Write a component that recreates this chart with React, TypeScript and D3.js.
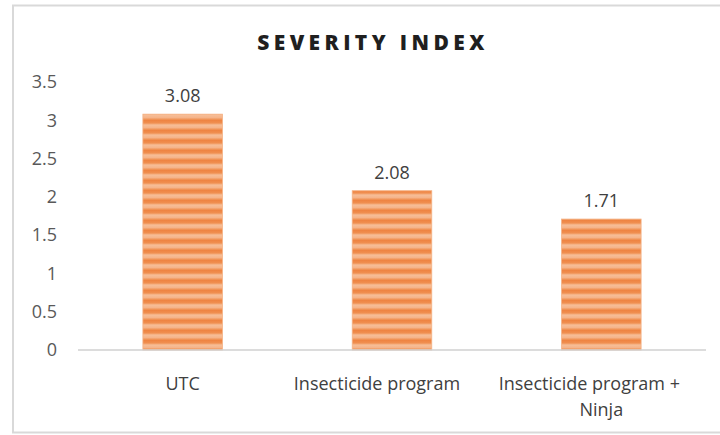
import React from "react";
import * as d3 from "d3";

const categories = ["UTC", "Insecticide program", "Insecticide program + Ninja"];
const categoryLines = [["UTC"], ["Insecticide program"], ["Insecticide program +", "Ninja"]];
const severity = [3.08, 2.08, 1.71];
const yTicks = [0, 0.5, 1, 1.5, 2, 2.5, 3, 3.5];

const W = 720;
const H = 435;
const margin = { left: 78, right: 14, top: 82, bottom: 85 };

export default function App() {
  const x = d3
    .scaleBand<string>()
    .domain(categories)
    .range([margin.left, W - margin.right])
    .paddingInner(0.62)
    .paddingOuter(0.31);
  const y = d3.scaleLinear().domain([0, 3.5]).range([H - margin.bottom, margin.top]);
  const font = "'Open Sans', sans-serif";

  return (
    <svg width={W} height={H} style={{ position: "absolute", left: 0, top: 0 }}>
      <defs>
        <linearGradient id="stripe" x1="0" y1="0" x2="0" y2="1">
          <stop offset="0" stopColor="#EE8240" />
          <stop offset="0.3" stopColor="#F08F50" />
          <stop offset="0.5" stopColor="#F6BE98" />
          <stop offset="0.75" stopColor="#F5B48A" />
          <stop offset="1" stopColor="#EF8A48" />
        </linearGradient>
        <pattern id="bars" patternUnits="userSpaceOnUse" width="10" height="10">
          <rect width="10" height="10" fill="url(#stripe)" />
        </pattern>
      </defs>
      <rect x={0} y={0} width={W} height={H} fill="#fff" />
      <rect x={13} y={5.5} width={W + 10} height={427} fill="none" stroke="#d9d9d9" strokeWidth={2} />
      <text
        x={373}
        y={50}
        textAnchor="middle"
        fontFamily={font}
        fontWeight={800}
        fontSize={21}
        letterSpacing={4.4}
        fill="#1f1f1f"
      >
        SEVERITY INDEX
      </text>
      {yTicks.map((t) => (
        <text
          key={t}
          x={57}
          y={y(t)}
          dy="0.35em"
          textAnchor="end"
          fontFamily={font}
          fontSize={18}
          fill="#595959"
        >
          {t}
        </text>
      ))}
      {categories.map((c, i) => (
        <g key={c}>
          <rect
            x={x(c)}
            y={y(severity[i])}
            width={x.bandwidth()}
            height={y(0) - y(severity[i])}
            fill="url(#bars)"
            stroke="#F4B183"
            strokeWidth={0.8}
          />
          <text
            x={x(c)! + x.bandwidth() / 2}
            y={y(severity[i]) - 12}
            textAnchor="middle"
            fontFamily={font}
            fontSize={18}
            fill="#404040"
          >
            {severity[i].toFixed(2)}
          </text>
          {categoryLines[i].map((line, j) => (
            <text
              key={line}
              x={x(c)! + x.bandwidth() / 2 + (categoryLines[i].length > 1 && j === 0 ? -12 : 0) + (i === 1 ? -15 : 0)}
              y={390 + j * 26}
              textAnchor="middle"
              fontFamily={font}
              fontSize={18}
              fill="#404040"
            >
              {line}
            </text>
          ))}
        </g>
      ))}
      <line x1={margin.left} x2={W - margin.right} y1={y(0)} y2={y(0)} stroke="#d0d0d0" strokeWidth={1.5} />
    </svg>
  );
}
